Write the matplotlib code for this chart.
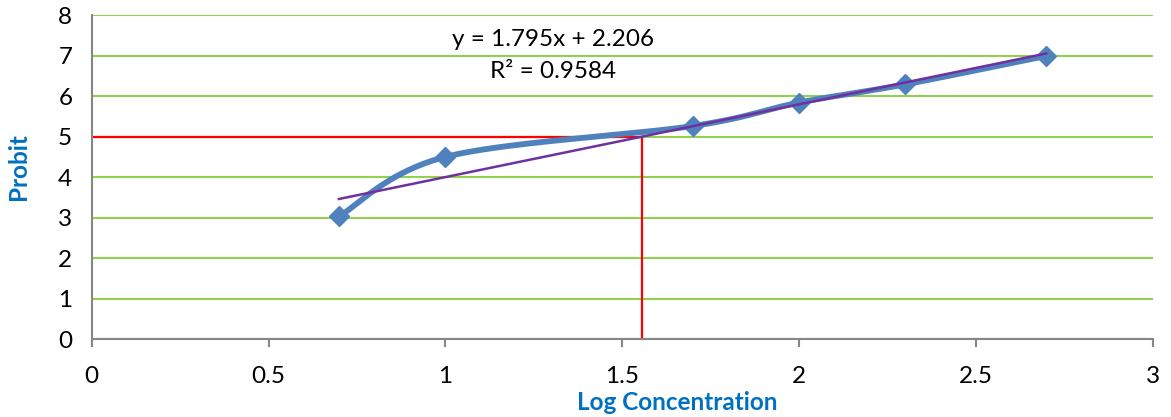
import numpy as np
import matplotlib.pyplot as plt

# Probit vs log concentration
log_conc = [0.699, 1.0, 1.699, 2.0, 2.301, 2.699]
probit = [3.03, 4.50, 5.26, 5.84, 6.29, 6.99]
slope, intercept = 1.795, 2.206
x_ticks = [0, 0.5, 1, 1.5, 2, 2.5, 3]
y_ticks = [0, 1, 2, 3, 4, 5, 6, 7, 8]


def smooth(xs, ys, n=40):
    # Catmull-Rom style smoothing like Excel's "smoothed line"
    xs, ys = np.asarray(xs, float), np.asarray(ys, float)
    px = np.concatenate([[xs[0]], xs, [xs[-1]]])
    py = np.concatenate([[ys[0]], ys, [ys[-1]]])
    ox, oy = [], []
    t = np.linspace(0, 1, n)
    for i in range(1, len(px) - 2):
        p0, p1, p2, p3 = [np.array([px[j], py[j]]) for j in range(i - 1, i + 3)]
        c1 = p1 + (p2 - p0) / 6
        c2 = p2 - (p3 - p1) / 6
        b = ((1 - t) ** 3)[:, None] * p1 + (3 * (1 - t) ** 2 * t)[:, None] * c1 \
            + (3 * (1 - t) * t ** 2)[:, None] * c2 + (t ** 3)[:, None] * p2
        ox.extend(b[:, 0]); oy.extend(b[:, 1])
    return ox, oy


plt.rcParams['font.family'] = ['Lato', 'DejaVu Sans']
fs = 17.5
fig = plt.figure(figsize=(11.71, 4.17), dpi=100)
ax = fig.add_axes([91.7 / 1171, (417 - 339.3) / 417, (1152.7 - 91.7) / 1171, (339.3 - 15) / 417])

ax.set_xlim(0, 3)
ax.set_ylim(0, 8)
ax.set_xticks(x_ticks)
ax.set_xticklabels([f'{v:g}' for v in x_ticks])
ax.set_yticks(y_ticks)
ax.grid(axis='y', color='#92D050', linewidth=1.5, zorder=0)
ax.tick_params(axis='y', length=0, pad=14, labelsize=fs)
ax.tick_params(axis='x', length=6, width=1.5, color='#868686', pad=13, labelsize=fs)
for s in ['top', 'right']:
    ax.spines[s].set_visible(False)
for s in ['left', 'bottom']:
    ax.spines[s].set_color('#868686')
    ax.spines[s].set_linewidth(1.5)

# LC50 guide lines
x50 = (5 - intercept) / slope
ax.plot([0, x50], [5, 5], color='#FF0000', linewidth=1.6, zorder=2)
ax.plot([x50, x50], [0, 5], color='#FF0000', linewidth=1.6, zorder=2, clip_on=False)

sx, sy = smooth(log_conc, probit)
ax.plot(sx, sy, color='#4F81BD', linewidth=4.2, solid_capstyle='round', zorder=3)
ax.plot(log_conc, probit, linestyle='none', marker='D', markersize=10.5,
        color='#4F81BD', zorder=4)

tx = np.array([log_conc[0], log_conc[-1]])
ax.plot(tx, slope * tx + intercept, color='#7030A0', linewidth=1.8, zorder=5)

ax.text(1.305, 7.39, 'y = 1.795x + 2.206', ha='center', va='center', fontsize=fs)
ax.text(1.305, 6.6, 'R² = 0.9584', ha='center', va='center', fontsize=fs)

ax.set_xlabel('Log Concentration', fontsize=fs, fontweight='bold', color='#0070C0')
ax.set_ylabel('Probit', fontsize=fs, fontweight='bold', color='#0070C0')
ax.xaxis.set_label_coords((677 - 91.7) / 1061, -(402 - 339.3) / 324.3)
ax.yaxis.set_label_coords(-(91.7 - 19) / 1061, (339.3 - 167) / 324.3)
ax.xaxis.label.set_va('center')
ax.yaxis.label.set_va('center')

fig.savefig('out.png', dpi=100)
